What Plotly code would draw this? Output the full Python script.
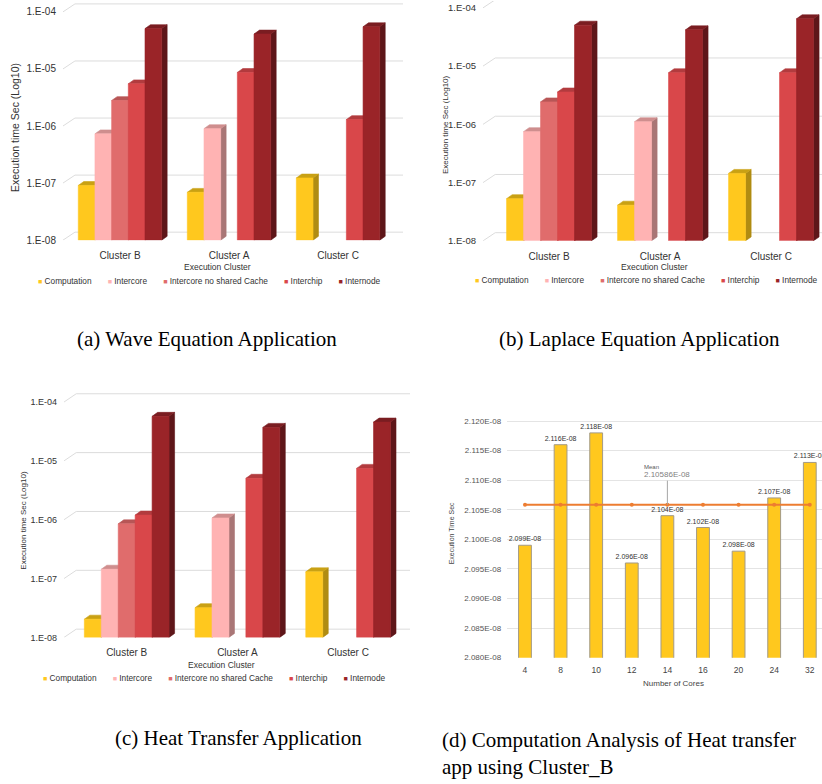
import plotly.graph_objects as go

# ---------------------------------------------------------------- data
clusters = ["Cluster B", "Cluster A", "Cluster C"]
series_names = ["Computation", "Intercore", "Intercore no shared Cache", "Interchip", "Internode"]

# execution time (s), one value per cluster in the order of `clusters`
wave_computation = [9.1e-8, 6.9e-8, 1.23e-7]
wave_intercore = [7.3e-7, 9.0e-7, None]
wave_intercore_noshared = [2.8e-6, None, None]
wave_interchip = [5.5e-6, 8.7e-6, 1.3e-6]
wave_internode = [5.1e-5, 4.1e-5, 5.5e-5]

laplace_computation = [5.3e-8, 4.1e-8, 1.44e-7]
laplace_intercore = [7.5e-7, 1.11e-6, None]
laplace_intercore_noshared = [2.43e-6, None, None]
laplace_interchip = [3.6e-6, 7.7e-6, 7.7e-6]
laplace_internode = [5.05e-5, 4.2e-5, 6.5e-5]

heat_computation = [2.04e-8, 3.2e-8, 1.3e-7]
heat_intercore = [1.44e-7, 1.07e-6, None]
heat_intercore_noshared = [8.5e-7, None, None]
heat_interchip = [1.2e-6, 5.05e-6, 7.45e-6]
heat_internode = [5.7e-5, 3.7e-5, 4.56e-5]

cores = ["4", "8", "10", "12", "14", "16", "20", "24", "32"]
computation_time = [2.099e-8, 2.116e-8, 2.118e-8, 2.096e-8, 2.104e-8,
                    2.102e-8, 2.098e-8, 2.107e-8, 2.113e-8]
computation_mean = 2.10586e-8

decade_ticks = [1e-8, 1e-7, 1e-6, 1e-5, 1e-4]
decade_labels = ["1.E-08", "1.E-07", "1.E-06", "1.E-05", "1.E-04"]
time_ticks = [2.080e-8, 2.085e-8, 2.090e-8, 2.095e-8, 2.100e-8,
              2.105e-8, 2.110e-8, 2.115e-8, 2.120e-8]
time_labels = ["2.080E-08", "2.085E-08", "2.090E-08", "2.095E-08", "2.100E-08",
               "2.105E-08", "2.110E-08", "2.115E-08", "2.120E-08"]

# ---------------------------------------------------------------- style
FONT = "Liberation Sans, Arial, sans-serif"
SERIF = "Liberation Serif, Times New Roman, serif"
FRONT = ["#FFC81E", "#FFB3B3", "#E06C6C", "#D9474A", "#9A2428"]
SIDE = ["#B08C12", "#A97676", "#A04A4A", "#9C3335", "#5E1619"]
TOP = ["#C9A114", "#CF8E8E", "#B85656", "#B23B3E", "#7A1D21"]
GRID = "#DCDCDC"

BAR_W = 0.153        # bar width, in group units
DEPTH_X = 0.05       # 3-D depth of a bar (x, group units)
DEPTH_Y = 0.068      # 3-D depth of a bar (y, decades)
WALL_X = 0.11        # back-wall offset of the grid (x)
WALL_Y = 0.14        # back-wall offset of the grid (decades)
BASE = 1e-8          # floor of the log axes

panels = [
    dict(xa="x", ya="y", xdom=[0.0766, 0.4903], xrange=[-0.523, 2.596],
         ydom=[0.6926, 1.0], ytop=-3.809, tick=10, standoff=8,
         data=[wave_computation, wave_intercore, wave_intercore_noshared,
               wave_interchip, wave_internode]),
    dict(xa="x2", ya="y2", xdom=[0.5876, 1.0], xrange=[-0.595, 2.459],
         ydom=[0.6917, 1.0], ytop=-3.882, tick=9.5, standoff=8,
         data=[laplace_computation, laplace_intercore, laplace_intercore_noshared,
               laplace_interchip, laplace_internode]),
    dict(xa="x3", ya="y3", xdom=[0.0779, 0.4988], xrange=[-0.566, 2.559],
         ydom=[0.1820, 0.5000], ytop=-3.796, tick=9, standoff=8,
         data=[heat_computation, heat_intercore, heat_intercore_noshared,
               heat_interchip, heat_internode]),
]

fig = go.Figure()


def poly(xs, ys, color, xa, ya):
    fig.add_trace(go.Scatter(
        x=xs + [xs[0]], y=ys + [ys[0]], mode="lines", fill="toself",
        fillcolor=color, line=dict(color=color, width=0.6),
        xaxis=xa, yaxis=ya, hoverinfo="skip", showlegend=False))


lift = 10 ** DEPTH_Y
wall = 10 ** WALL_Y
for p in panels:
    xa, ya = p["xa"], p["ya"]
    x0, x1 = p["xrange"]
    # back-wall gridlines with the slanted link to the front axis
    for t in decade_ticks:
        fig.add_trace(go.Scatter(
            x=[x0, x0 + WALL_X, x1], y=[t, t * wall, t * wall], mode="lines",
            line=dict(color=GRID, width=1), xaxis=xa, yaxis=ya,
            hoverinfo="skip", showlegend=False))
    # 3-D columns, drawn left to right so nearer faces cover hidden sides
    for gi in range(len(clusters)):
        for si in range(len(series_names)):
            v = p["data"][si][gi]
            if v is None:
                continue
            xc = gi + (si - 2) * BAR_W
            xl, xr = xc - BAR_W / 2, xc + BAR_W / 2
            poly([xr, xr + DEPTH_X, xr + DEPTH_X, xr],
                 [BASE, BASE * lift, v * lift, v], SIDE[si], xa, ya)
            poly([xl, xr, xr + DEPTH_X, xl + DEPTH_X],
                 [v, v, v * lift, v * lift], TOP[si], xa, ya)
            poly([xl, xr, xr, xl], [BASE, BASE, v, v], FRONT[si], xa, ya)

# (d) computation time per core count
fig.add_trace(go.Bar(
    x=cores, y=computation_time, width=0.36, xaxis="x4", yaxis="y4",
    marker=dict(color="#FFC81E", line=dict(color="#A39A86", width=1)),
    text=[f"{v:.3E}" for v in computation_time], textposition="outside",
    constraintext="none",
    textfont=dict(size=7, color="#333333", family=FONT),
    cliponaxis=False, showlegend=False))
fig.add_trace(go.Scatter(
    x=cores, y=[computation_mean] * len(cores), mode="lines+markers",
    line=dict(color="#ED7D31", width=2), marker=dict(size=4, color="#ED7D31"),
    xaxis="x4", yaxis="y4", showlegend=False))

# ---------------------------------------------------------------- axes
layout_axes = {}
for i, p in enumerate(panels):
    k = "" if i == 0 else str(i + 1)
    layout_axes["xaxis" + k] = dict(
        domain=p["xdom"], range=p["xrange"], anchor=p["ya"],
        tickmode="array", tickvals=list(range(len(clusters))), ticktext=clusters,
        showgrid=False, zeroline=False, showline=False, ticks="",
        ticklabelstandoff=p["standoff"],
        tickfont=dict(size=10, color="#333333", family=FONT), fixedrange=True)
    layout_axes["yaxis" + k] = dict(
        domain=p["ydom"], type="log", range=[-8, p["ytop"]], anchor=p["xa"],
        tickmode="array", tickvals=decade_ticks, ticktext=decade_labels,
        showgrid=False, zeroline=False, showline=False, ticks="",
        ticklabelstandoff=6,
        tickfont=dict(size=p["tick"], color="#333333", family=FONT), fixedrange=True)

layout_axes["xaxis4"] = dict(
    domain=[0.617, 1.0], type="category", range=[-0.5, 8.343], anchor="y4",
    showgrid=False, zeroline=False, showline=False, ticks="",
    ticklabelstandoff=6,
    tickfont=dict(size=8.5, color="#444444", family=FONT))
layout_axes["yaxis4"] = dict(
    domain=[0.1560, 0.4639], range=[2.080e-8, 2.1205e-8], anchor="x4",
    tickmode="array", tickvals=time_ticks, ticktext=time_labels,
    showgrid=True, gridcolor="#E4E4E4", gridwidth=1, zeroline=False,
    showline=False, ticks="", ticklabelstandoff=5,
    tickfont=dict(size=8, color="#555555", family=FONT))


# ---------------------------------------------------------------- text
def legend_text():
    parts = []
    for name, c in zip(series_names, FRONT):
        parts.append(f'<span style="color:{c};font-size:7px">\u25A0</span>\u00a0{name}')
    return ("\u00a0" * 7).join(parts)


def note(x, y, text, size, color="#333333", family=FONT, **kw):
    d = dict(x=x, y=y, xref="paper", yref="paper", text=text, showarrow=False,
             xanchor="center", yanchor="middle",
             font=dict(size=size, color=color, family=family))
    d.update(kw)
    return d


ann = []
# legends under the three log charts
for lx, ly in [(0.2549, 0.6403), (0.787, 0.6416), (0.261, 0.1300)]:
    ann.append(note(lx, ly, legend_text(), 8.3))
# axis titles
for tx, ty, size in [(0.0182, 0.838, 10.5), (0.5414, 0.8406, 8), (0.0276, 0.3329, 8)]:
    ann.append(note(tx, ty, "Execution time Sec (Log10)", size, textangle=-90))
for tx, ty in [(0.264, 0.658), (0.7968, 0.6585), (0.270, 0.1470)]:
    ann.append(note(tx, ty, "Execution Cluster", 8.5))
ann.append(note(0.5495, 0.3154, "Execution Time Sec", 7, "#444444", textangle=-90))
ann.append(note(0.8191, 0.123, "Number of Cores", 8, "#444444"))
# mean call-out, anchored on the middle category
ann.append(dict(x=len(cores) // 2, y=computation_mean, xref="x4", yref="y4",
                ax=0, ay=-33, showarrow=True, arrowhead=0, arrowwidth=1,
                arrowcolor="#A6A6A6", align="left",
                text=("Mean<br><span style=\"font-size:8px;color:#7F7F7F\">"
                      f"{computation_mean:.5E}</span>"),
                font=dict(size=6, color="#595959", family=FONT)))
# sub-figure captions
ann.append(note(0.2524, 1 - 341 / 784, "(a) Wave Equation Application", 21, "#000000", SERIF))
ann.append(note(0.778, 1 - 341 / 784, "(b) Laplace Equation Application", 21, "#000000", SERIF))
ann.append(note(0.290, 1 - 743 / 784, "(c) Heat Transfer Application", 21, "#000000", SERIF))
ann.append(note(0.535, 1 - 731 / 784,
                "(d) Computation Analysis of Heat transfer<br>app using Cluster_B",
                21, "#000000", SERIF, xanchor="left", yanchor="top", align="left"))

fig.update_layout(
    width=822, height=784, margin=dict(l=0, r=0, t=0, b=0),
    paper_bgcolor="white", plot_bgcolor="white", showlegend=False,
    bargap=0.2, annotations=ann, font=dict(family=FONT), **layout_axes)

fig.write_html("out.html", config={"displayModeBar": False})
